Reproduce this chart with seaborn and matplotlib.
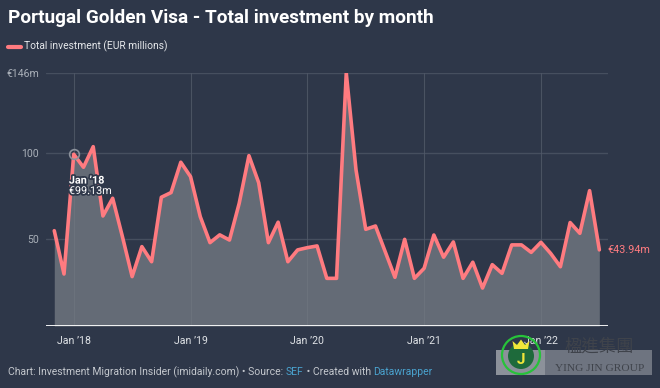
import numpy as np
import pandas as pd
import seaborn as sns
import matplotlib
matplotlib.use("Agg")
import matplotlib.pyplot as plt
import matplotlib.patheffects as pe
from matplotlib.patches import Rectangle, Polygon, Ellipse

# ---------------- data ----------------
months = pd.date_range("2017-11-01", "2022-07-01", freq="MS")
investment = [
    55.0, 30.0,
    99.13, 91.6, 103.5, 63.5, 73.7, 51.6, 28.5, 45.8, 37.1, 74.3, 77.0, 94.5,
    86.2, 63.1, 48.1, 52.6, 49.6, 70.8, 98.3, 82.7, 48.1, 59.9, 37.1, 43.9,
    45.2, 46.2, 27.5, 27.5, 146.0, 90.1, 55.8, 57.7, 42.9, 28.1, 50.0, 27.5,
    33.3, 52.5, 39.7, 48.5, 27.5, 36.8, 21.9, 35.4, 30.4, 46.8, 46.8, 42.5,
    48.3, 41.9, 34.2, 59.7, 53.5, 78.1, 43.94,
]
x_tick_labels = ["Jan \u201918", "Jan \u201919", "Jan \u201920", "Jan \u201921", "Jan \u201922"]
y_ticks = [50, 100, 146]
y_tick_labels = ["50", "100", "\u20ac146m"]

df = pd.DataFrame({"month": months, "value": investment})
df["idx"] = np.arange(len(df))
jan_idx = df.loc[df["month"].dt.month == 1, "idx"].tolist()

# ---------------- style ----------------
BG = "#2e3749"
LINE = "#ff7b80"
FILL = "#646b76"
GRID = "#464f5f"
TICK = "#a9afb8"

sns.set_style("dark")
plt.rcParams["font.family"] = ["Roboto", "DejaVu Sans"]

W, H = 660, 388
fig = plt.figure(figsize=(W / 100, H / 100), dpi=100, facecolor=BG)

def fx(px):
    return px / W

def fy(py):
    return 1 - py / H

ax = fig.add_axes([fx(46), fy(326), fx(607.7) - fx(46), fy(73) - fy(326)])
ax.set_facecolor(BG)

ax.fill_between(df["idx"], 0, df["value"], color=FILL, linewidth=0, zorder=2)
sns.lineplot(data=df, x="idx", y="value", ax=ax, color=LINE, linewidth=2.6,
             zorder=3, legend=False)

ax.set_xlim(-0.85, len(df) - 1 + 0.86)
ax.set_ylim(0, 146)

for y in y_ticks:
    ax.axhline(y, color=GRID, linewidth=1, zorder=1)
for xi in jan_idx:
    ax.axvline(xi, color=GRID, linewidth=0.8, zorder=1, alpha=0.8)
    ax.axvline(xi, color="#ffffff", linewidth=0.6, alpha=0.06, zorder=2.5)
ax.axhline(0, color="#ffffff", linewidth=1.3, zorder=4)

ax.set_xticks(jan_idx)
ax.set_xticklabels(x_tick_labels)
ax.set_yticks(y_ticks)
ax.set_yticklabels(y_tick_labels)
ax.tick_params(axis="both", length=0, labelsize=7.6, colors=TICK)
ax.tick_params(axis="x", pad=7, colors="#dfe2e6")
ax.tick_params(axis="y", pad=5)
ax.grid(False)
for s in ax.spines.values():
    s.set_visible(False)
ax.set_xlabel("")
ax.set_ylabel("")

# highlight Jan '18
jan18 = df.iloc[2]
ax.plot([jan18["idx"]], [jan18["value"]], marker="o", markersize=7,
        markerfacecolor="none", markeredgecolor="#8c929c", markeredgewidth=1.2, zorder=5)
halo = [pe.withStroke(linewidth=2.5, foreground=BG)]
ax.annotate("Jan \u201918", xy=(jan18["idx"], jan18["value"]), xytext=(-3.5, -19),
            textcoords="offset points", ha="left", va="center", fontsize=7.8,
            fontweight="bold", color="white", path_effects=halo, zorder=6)
ax.annotate(f"\u20ac{jan18['value']:.2f}m", xy=(jan18["idx"], jan18["value"]),
            xytext=(-3.5, -26.5), textcoords="offset points", ha="left", va="center",
            fontsize=7.8, color="white", path_effects=halo, zorder=6)

# end label
last = df.iloc[-1]
ax.annotate(f"\u20ac{last['value']:.2f}m", xy=(last["idx"], last["value"]),
            xytext=(6, 0), textcoords="offset points", ha="left", va="center",
            fontsize=7.8, color=LINE, annotation_clip=False)

# ---------------- titles / legend / footer ----------------
fig.text(fx(8), fy(18), "Portugal Golden Visa - Total investment by month",
         fontsize=13.7, fontweight="bold", color="white", ha="left", va="center")
fig.add_artist(plt.Line2D([fx(8), fx(21)], [fy(46.5), fy(46.5)], color=LINE,
                          linewidth=3, solid_capstyle="round"))
fig.text(fx(24), fy(46.5), "Total investment (EUR millions)", fontsize=7.4,
         color="#e6e8eb", ha="left", va="center")

foot_y = fy(372)
t1 = fig.text(fx(8), foot_y, "Chart: Investment Migration Insider (imidaily.com) \u2022 Source: ",
              fontsize=7.5, color="#c3c7cd", ha="left", va="center")
fig.canvas.draw()
r = fig.canvas.get_renderer()
bb = t1.get_window_extent(r)
t2 = fig.text(bb.x1 / W, foot_y, "SEF", fontsize=7.5, color="#4aa3cf", ha="left", va="center")
bb = t2.get_window_extent(r)
t3 = fig.text(bb.x1 / W, foot_y, " \u2022 Created with ", fontsize=7.5, color="#c3c7cd",
              ha="left", va="center")
bb = t3.get_window_extent(r)
fig.text(bb.x1 / W, foot_y, "Datawrapper", fontsize=7.5, color="#4aa3cf", ha="left", va="center")

# watermark (logo overlay)
fig.add_artist(Rectangle((fx(496), fy(375)), fx(652) - fx(496), fy(350) - fy(375),
                         transform=fig.transFigure, facecolor="#9a9ea5", alpha=0.6,
                         edgecolor="none"))
fig.add_artist(Rectangle((fx(496), fy(375)), fx(545) - fx(496), fy(350) - fy(375),
                         transform=fig.transFigure, facecolor="#c5c8cc", alpha=0.35,
                         edgecolor="none"))
fig.add_artist(Ellipse((fx(521), fy(355)), 38 / W, 38 / H, transform=fig.transFigure,
                       facecolor="none", edgecolor="#27c23a", linewidth=1.6))
fig.add_artist(Ellipse((fx(521), fy(356)), 26 / W, 26 / H, transform=fig.transFigure,
                       facecolor="#1e6a3b", edgecolor="none"))
crown = [(514, 349), (528, 349), (529.5, 341), (525, 345), (521, 339.5),
         (517, 345), (512.5, 341)]
fig.add_artist(Polygon([(fx(a), fy(b)) for a, b in crown], closed=True,
                       transform=fig.transFigure, facecolor="#f0e63a", edgecolor="none"))
fig.text(fx(521), fy(360), "J", fontsize=11, fontweight="bold", color="#f0e63a",
         ha="center", va="center")
fig.text(fx(599.5), fy(346.5), "\u6979\u9032\u96c6\u5718", fontsize=12.5,
         family=["Noto Sans CJK TC", "DejaVu Sans"], color="#3f434b", ha="center", va="center")
fig.text(fx(599.5), fy(368.5), "YING JIN GROUP", fontsize=8.2,
         family=["Liberation Serif", "DejaVu Serif"],
         color="#3f434b", ha="center", va="center")

fig.savefig("out.png", dpi=100, facecolor=BG)
